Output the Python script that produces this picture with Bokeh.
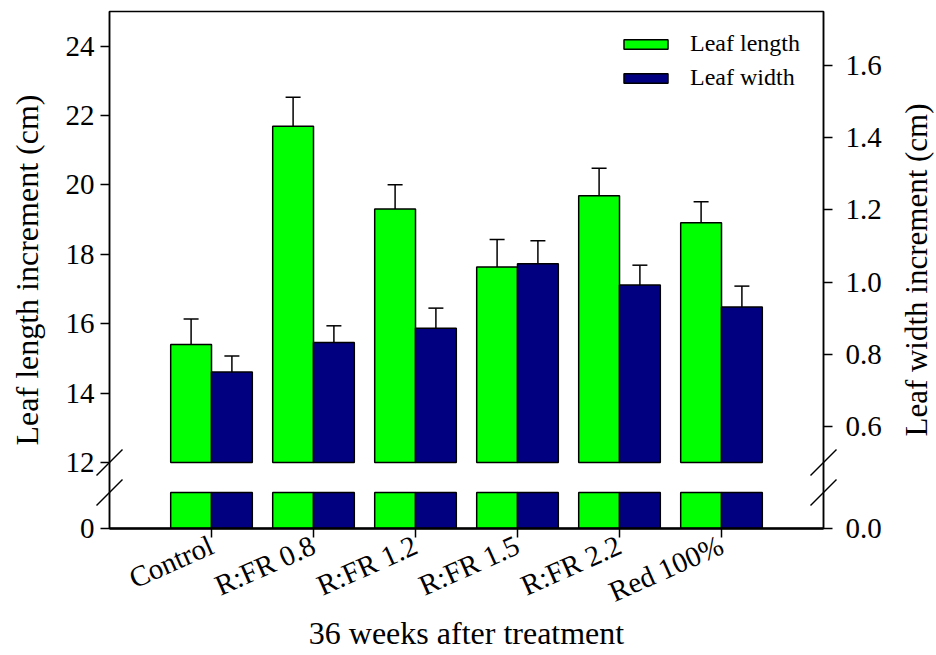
import math
import numpy as np
from bokeh.plotting import figure
from bokeh.layouts import row
from bokeh.models import (Range1d, LinearAxis, FixedTicker, Whisker, TeeHead,
                          Legend, LegendItem, ColumnDataSource, Label)
from bokeh.embed import file_html
from bokeh.resources import INLINE

# ---------------- data ----------------
categories = ["Control", "R:FR 0.8", "R:FR 1.2", "R:FR 1.5", "R:FR 2.2", "Red 100%"]
leaf_length = [15.40, 21.69, 19.31, 17.64, 19.69, 18.91]
leaf_length_err = [0.74, 0.84, 0.70, 0.79, 0.79, 0.61]
leaf_width = [0.751, 0.833, 0.872, 1.051, 0.992, 0.931]
leaf_width_err = [0.044, 0.046, 0.056, 0.064, 0.055, 0.058]
left_ticks = [0, 12, 14, 16, 18, 20, 22, 24]
right_ticks = [0.0, 0.6, 0.8, 1.0, 1.2, 1.4, 1.6]

# ---------------- broken-axis layout ----------------
L_BREAK, L_TOP = 12.0, 25.0        # upper segment of left axis
R_BREAK, R_TOP = 0.5, 1.75         # upper segment of right axis
L_BOTTOM = 10.1                    # where the left-axis 0 sits
L_LOWTOP = 11.14                   # top of the lower (stub) segment


def l2r(y):
    return R_BREAK + (y - L_BREAK) * (R_TOP - R_BREAK) / (L_TOP - L_BREAK)


R_BOTTOM = l2r(L_BOTTOM)
R_LOWTOP = l2r(L_LOWTOP)


def lpos(v):
    return float(v) if v >= L_BREAK else L_BOTTOM


def rpos(v):
    return float(v) if v >= R_BREAK else R_BOTTOM


W, H = 936, 655
TITLE_W = 40                      # strip on the right holding the right title
PW = W - TITLE_W
BL, BR, BT, BB = 109, 73, 11, 127
FW, FH = PW - BL - BR, H - BT - BB

N = len(categories)
x = np.arange(1, N + 1, dtype=float)
BAR_W = 0.4

src = ColumnDataSource(dict(
    xg=x - BAR_W / 2, xn=x + BAR_W / 2,
    ll=leaf_length, llu=[a + b for a, b in zip(leaf_length, leaf_length_err)],
    lw=leaf_width, lwu=[a + b for a, b in zip(leaf_width, leaf_width_err)],
))

p = figure(width=PW, height=H, x_range=Range1d(0, N + 1),
           y_range=Range1d(L_BOTTOM, L_TOP), output_backend="svg",
           toolbar_location=None, min_border_left=BL, min_border_right=BR,
           min_border_top=BT, min_border_bottom=BB)
p.extra_y_ranges = {"right": Range1d(R_BOTTOM, R_TOP)}
p.background_fill_color = "white"
p.border_fill_color = "white"
p.outline_line_color = "black"
p.outline_line_width = 1.5
p.xgrid.visible = False
p.ygrid.visible = False

GREEN, NAVY = "#00FF00", "#000080"
bar_kw = dict(width=BAR_W, line_color="black", line_width=1.5, source=src)

g_up = p.vbar(x="xg", bottom=L_BREAK, top="ll", fill_color=GREEN, **bar_kw)
p.vbar(x="xg", bottom=L_BOTTOM, top=L_LOWTOP, fill_color=GREEN, **bar_kw)
n_up = p.vbar(x="xn", bottom=R_BREAK, top="lw", fill_color=NAVY,
              y_range_name="right", **bar_kw)
p.vbar(x="xn", bottom=R_BOTTOM, top=R_LOWTOP, fill_color=NAVY,
       y_range_name="right", **bar_kw)

p.add_layout(Whisker(source=src, base="xg", lower="ll", upper="llu",
                     dimension="height", line_width=1.5, line_color="black",
                     upper_head=TeeHead(size=15, line_width=1.5), lower_head=None))
p.add_layout(Whisker(source=src, base="xn", lower="lw", upper="lwu",
                     dimension="height", line_width=1.5, line_color="black",
                     y_range_name="right",
                     upper_head=TeeHead(size=15, line_width=1.5), lower_head=None))

# break marks on both vertical axes
dx = 13 * (N + 1) / FW
dy = 13 * (L_TOP - L_BOTTOM) / FH
bx = [0, 0, N + 1, N + 1]
by = [L_BREAK, L_LOWTOP, L_BREAK, L_LOWTOP]
p.segment(x0=[b - dx for b in bx], y0=[c - dy for c in by],
          x1=[b + dx for b in bx], y1=[c + dy for c in by],
          line_color="black", line_width=1.5, level="overlay")

# axes
FONT = "Liberation Serif"
ra = LinearAxis(y_range_name="right")
p.add_layout(ra, "right")

p.yaxis[0].ticker = FixedTicker(ticks=[lpos(t) for t in left_ticks])
p.yaxis[0].major_label_overrides = {lpos(t): str(t) for t in left_ticks}
p.yaxis[0].axis_label = "Leaf length increment (cm)"
ra.ticker = FixedTicker(ticks=[rpos(t) for t in right_ticks])
ra.major_label_overrides = {rpos(t): f"{t:.1f}" for t in right_ticks}

p.xaxis.ticker = FixedTicker(ticks=[float(v) for v in x])
p.xaxis.major_label_overrides = {float(v): c for v, c in zip(x, categories)}
p.xaxis.major_label_orientation = 0.42
p.xaxis.axis_label = "36 weeks after treatment"

for ax in [p.xaxis[0], p.yaxis[0], ra]:
    ax.axis_line_width = 1.5
    ax.axis_line_color = "black"
    ax.major_tick_line_width = 1.5
    ax.major_tick_line_color = "black"
    ax.major_tick_out = 9
    ax.major_tick_in = 0
    ax.minor_tick_out = 0
    ax.minor_tick_in = 0
    ax.major_label_text_font = FONT
    ax.major_label_text_font_size = "29px"
    ax.major_label_text_color = "black"
    ax.major_label_standoff = 6
    ax.axis_label_text_font = FONT
    ax.axis_label_text_font_size = "32px"
    ax.axis_label_text_font_style = "normal"
    ax.axis_label_text_color = "black"
    ax.axis_label_standoff = 18

p.xaxis.axis_line_width = 2.5
p.xaxis.axis_label_standoff = -10
ra.major_label_standoff = 13

legend = Legend(items=[LegendItem(label="Leaf length", renderers=[g_up]),
                       LegendItem(label="Leaf width", renderers=[n_up])],
                location=(509, 437), glyph_width=55, glyph_height=12,
                label_standoff=17, spacing=7, padding=0, margin=0,
                border_line_color=None, background_fill_alpha=0,
                label_text_font=FONT, label_text_font_size="24px",
                label_text_color="black", label_height=24)
p.add_layout(legend)

# narrow strip holding the right-axis title, reading bottom-to-top
# (its frame is aligned with the main plot's frame by the row layout)
t = figure(width=TITLE_W, height=H, x_range=Range1d(0, 1), y_range=Range1d(0, 1),
           x_axis_type=None, y_axis_type=None, output_backend="svg",
           toolbar_location=None, min_border=0)
t.outline_line_color = None
t.xgrid.visible = False
t.ygrid.visible = False
t.background_fill_color = "white"
t.border_fill_color = "white"
t.add_layout(Label(x=0.5, y=0.5,
                   text="Leaf width increment (cm)", angle=math.pi / 2,
                   text_align="center", text_baseline="middle",
                   text_font=FONT, text_font_size="31px", text_color="black"))

layout = row(p, t)
open("out.html", "w").write(file_html(layout, INLINE))
